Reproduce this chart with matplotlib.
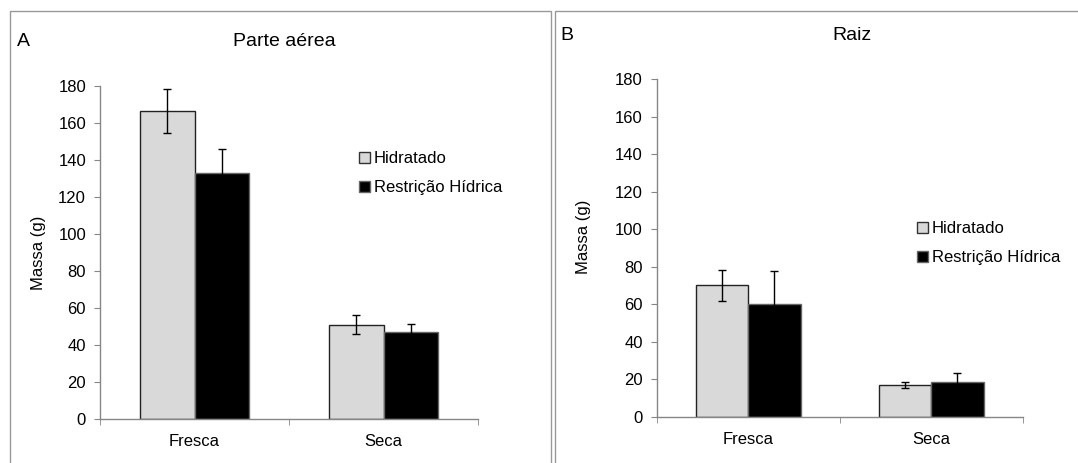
import matplotlib
matplotlib.use('Agg')
import matplotlib.pyplot as plt
from matplotlib.patches import Patch, Rectangle
import numpy as np

plt.rcParams['font.family'] = ['Liberation Sans', 'DejaVu Sans']

# Data
categories = ['Fresca', 'Seca']
series = ['Hidratado', 'Restrição Hídrica']

aerea_hid = [166.5, 51.0]
aerea_hid_err = [12.0, 5.0]
aerea_res = [133.0, 47.0]
aerea_res_err = [13.0, 4.5]

raiz_hid = [70.0, 17.0]
raiz_hid_err = [8.5, 1.5]
raiz_res = [60.0, 18.3]
raiz_res_err = [17.5, 5.0]

y_ticks = [0, 20, 40, 60, 80, 100, 120, 140, 160, 180]

W, H = 1078, 463
fig = plt.figure(figsize=(W / 100, H / 100), dpi=100)

grey = '#d9d9d9'
axis_col = '#868686'
bar_w = 0.286


def px(x0, y0, x1, y1):
    # pixel box (top-left origin) -> figure fraction rect
    return [x0 / W, 1 - y1 / H, (x1 - x0) / W, (y1 - y0) / H]


def panel(rect, hid, hid_err, res, res_err, ylab_xy, leg_xy):
    ax = fig.add_axes(rect)
    x = np.arange(len(categories))
    ax.bar(x - bar_w / 2, hid, bar_w, color=grey, edgecolor='#222222', linewidth=1, zorder=2)
    ax.bar(x + bar_w / 2, res, bar_w, color='black', edgecolor='#666666', linewidth=1, zorder=2)
    ax.errorbar(x - bar_w / 2, hid, yerr=hid_err, fmt='none', ecolor='black',
                elinewidth=1, capsize=3, capthick=1, zorder=3)
    ax.errorbar(x + bar_w / 2, res, yerr=res_err, fmt='none', ecolor='black',
                elinewidth=1, capsize=3, capthick=1, zorder=3)

    ax.set_xlim(-0.5, 1.5)
    ax.set_ylim(0, 180)
    ax.set_yticks(y_ticks)
    ax.set_xticks(x)
    ax.set_xticklabels(categories)
    ax.set_xticks([-0.5, 0.5, 1.5], minor=True)
    ax.tick_params(axis='x', which='major', length=0, pad=11, labelsize=12)
    ax.tick_params(axis='x', which='minor', length=4, color=axis_col, direction='out')
    ax.tick_params(axis='y', length=4, color=axis_col, direction='out', pad=6, labelsize=12)
    for s in ['top', 'right']:
        ax.spines[s].set_visible(False)
    for s in ['left', 'bottom']:
        ax.spines[s].set_color(axis_col)
        ax.spines[s].set_linewidth(1)
    ax.set_ylabel('Massa (g)', fontsize=12)
    ax.yaxis.set_label_coords(*ylab_xy)

    handles = [Patch(facecolor=grey, edgecolor='#333333', linewidth=1),
               Patch(facecolor='black', edgecolor='#666666', linewidth=1)]
    fig.legend(handles, series, loc='upper left', bbox_to_anchor=leg_xy,
               frameon=False, fontsize=12, handlelength=0.65, handleheight=0.65,
               handletextpad=0.25, labelspacing=0.85, borderpad=0, borderaxespad=0)
    return ax


panel(px(100, 86, 478, 419), aerea_hid, aerea_hid_err, aerea_res, aerea_res_err,
      (-0.143, 0.5), (359 / W, 1 - 151 / H))
panel(px(656.7, 79.3, 1022.7, 416.7), raiz_hid, raiz_hid_err, raiz_res, raiz_res_err,
      (-0.18, 0.533), (917 / W, 1 - 221 / H))

# panel letters and titles
fig.text(17 / W, 1 - 41 / H, 'A', fontsize=14, va='center', ha='left')
fig.text(284 / W, 1 - 41 / H, 'Parte aérea', fontsize=14, va='center', ha='center')
fig.text(560 / W, 1 - 35 / H, 'B', fontsize=14, va='center', ha='left')
fig.text(852 / W, 1 - 35 / H, 'Raiz', fontsize=14, va='center', ha='center')

# grey frames around each panel
fig.add_artist(Rectangle((10 / W, -0.1), (551 - 10) / W, 1.1 - 11 / H,
                         transform=fig.transFigure, fill=False,
                         edgecolor='#999999', linewidth=1.0))
fig.add_artist(Rectangle((554.5 / W, -0.1), 0.6, 1.1 - 11 / H,
                         transform=fig.transFigure, fill=False,
                         edgecolor='#999999', linewidth=1.0))

fig.savefig('out.png', dpi=100)
